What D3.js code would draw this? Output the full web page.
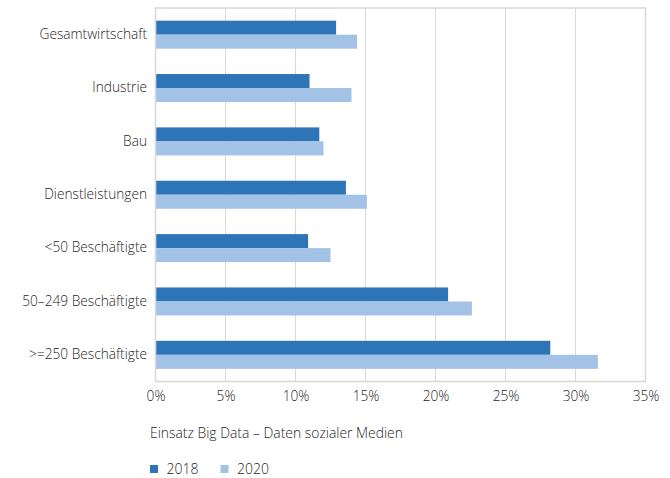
<!DOCTYPE html>
<html>
<head>
<meta charset="utf-8">
<script src="https://cdn.jsdelivr.net/npm/d3@7"></script>
<style>
  html, body { margin: 0; padding: 0; background: #fff; }
  svg { display: block; font-family: "Open Sans", "Noto Sans", sans-serif; font-weight: 300; }
</style>
</head>
<body>
<svg id="chart" width="670" height="478"></svg>
<script>
// Share of enterprises using social media data for Big Data analysis (%)
const categories = [
  "Gesamtwirtschaft",
  "Industrie",
  "Bau",
  "Dienstleistungen",
  "<50 Beschäftigte",
  "50–249 Beschäftigte",
  ">=250 Beschäftigte"
];
const seriesNames = ["2018", "2020"];
const values2018 = [12.9, 11.0, 11.7, 13.6, 10.9, 20.9, 28.2];
const values2020 = [14.4, 14.0, 12.0, 15.1, 12.5, 22.6, 31.6];
const xTicks = [0, 5, 10, 15, 20, 25, 30, 35];
const axisTitle = "Einsatz Big Data – Daten sozialer Medien";

const colors = { "2018": "#2e75b8", "2020": "#a3c3e6" };
const textColor = "#262626";
const gridColor = "#d9d9d9";

const svg = d3.select("#chart");
const plot = { left: 155.5, right: 645.5, top: 8, bottom: 381.5 };

const rows = categories.map((c, i) => ({
  category: c,
  "2018": values2018[i],
  "2020": values2020[i]
}));

const x = d3.scaleLinear().domain([0, 35]).range([plot.left, plot.right]);
const y = d3.scaleBand()
  .domain(categories)
  .range([plot.top, plot.bottom])
  .paddingInner(0.475)
  .paddingOuter(0.2375);
const ySub = d3.scaleBand().domain(seriesNames).range([0, y.bandwidth()]);

// vertical gridlines
svg.append("g")
  .selectAll("line")
  .data(xTicks.slice(1, -1))
  .join("line")
  .attr("x1", d => x(d)).attr("x2", d => x(d))
  .attr("y1", plot.top).attr("y2", plot.bottom)
  .attr("stroke", gridColor)
  .attr("stroke-width", 1);

// bars
svg.append("g")
  .selectAll("g")
  .data(rows)
  .join("g")
  .attr("transform", d => `translate(0,${y(d.category)})`)
  .selectAll("rect")
  .data(d => seriesNames.map(s => ({ key: s, value: d[s] })))
  .join("rect")
  .attr("x", x(0))
  .attr("y", d => ySub(d.key))
  .attr("width", d => x(d.value) - x(0))
  .attr("height", ySub.bandwidth())
  .attr("fill", d => colors[d.key]);

// plot frame
svg.append("rect")
  .attr("x", plot.left).attr("y", plot.top)
  .attr("width", plot.right - plot.left)
  .attr("height", plot.bottom - plot.top)
  .attr("fill", "none")
  .attr("stroke", gridColor)
  .attr("stroke-width", 1.6);

// category axis
const yAxis = svg.append("g")
  .attr("transform", `translate(${plot.left},0)`)
  .call(d3.axisLeft(y).tickSize(0).tickPadding(8.5));
yAxis.select(".domain").remove();
yAxis.selectAll("text")
  .attr("fill", textColor)
  .style("font-size", "13.7px")
  .style("font-family", "'Open Sans', sans-serif")
  .style("font-weight", 300);

// value axis
const xAxis = svg.append("g")
  .attr("transform", `translate(0,${plot.bottom})`)
  .call(d3.axisBottom(x).tickValues(xTicks).tickSize(0).tickPadding(9.5).tickFormat(d => d + "%"));
xAxis.select(".domain").remove();
xAxis.selectAll("text")
  .attr("fill", textColor)
  .style("font-size", "13.7px")
  .style("font-family", "'Open Sans', sans-serif")
  .style("font-weight", 300);

// axis title
svg.append("text")
  .attr("x", 150).attr("y", 437.5)
  .attr("fill", textColor)
  .style("font-size", "13.9px")
  .text(axisTitle);

// legend
const legend = svg.append("g").attr("transform", "translate(150,465)");
const item = legend.selectAll("g")
  .data(seriesNames)
  .join("g")
  .attr("transform", (d, i) => `translate(${i * 70.5},0)`);
item.append("rect")
  .attr("width", 8).attr("height", 8)
  .attr("fill", d => colors[d]);
item.append("text")
  .attr("x", 16.5).attr("y", 9)
  .attr("fill", textColor)
  .style("font-size", "14px")
  .text(d => d);
</script>
</body>
</html>
